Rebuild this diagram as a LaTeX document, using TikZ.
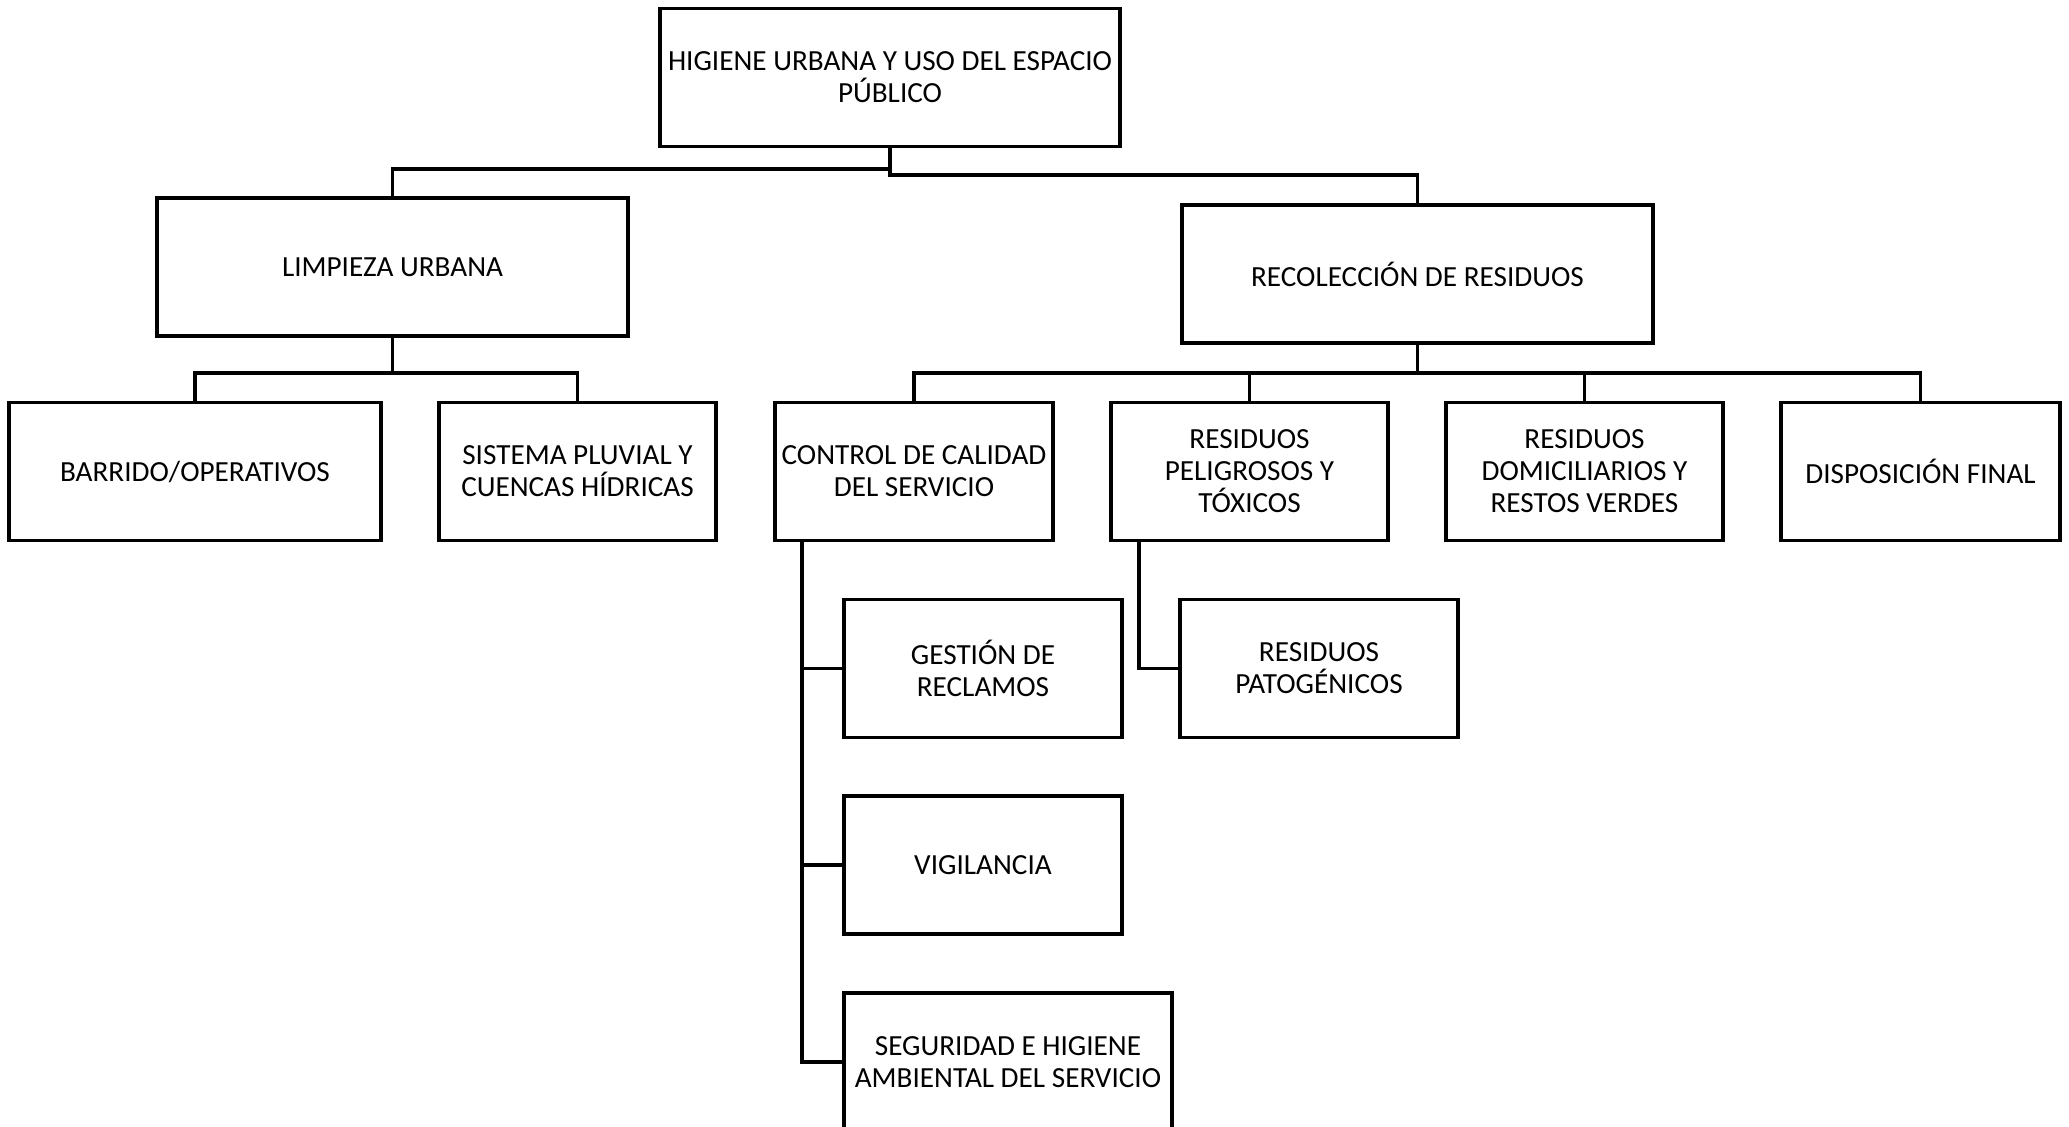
\documentclass[tikz,border=0pt]{standalone}
\usepackage{fontspec}
\setmainfont{Carlito}
\begin{document}
\begin{tikzpicture}[x=0.5pt,y=-0.5pt,
  box/.style={draw=black, line width=1.6pt, rectangle, align=center, inner sep=2pt,
    font=\fontsize{14.6}{16}\selectfont, minimum height=69pt},
  link/.style={draw=black, line width=1.6pt}]
\useasboundingbox (0,0) rectangle (2069,1126);
\node[box, minimum width=230pt] (top) at (890,77.5) {HIGIENE URBANA Y USO DEL ESPACIO\\PÚBLICO};
\node[box, minimum width=235.5pt] (limp) at (392.5,267) {LIMPIEZA URBANA};
\node[box, minimum width=235.5pt] (reco) at (1417.5,274) {RECOLECCIÓN DE RESIDUOS};
\node[box, minimum width=186pt] (barr) at (195,471.5) {BARRIDO/OPERATIVOS};
\node[box, minimum width=138.5pt] (sist) at (577.5,471.5) {SISTEMA PLUVIAL Y\\CUENCAS HÍDRICAS};
\node[box, minimum width=139pt] (ctrl) at (914,471.5) {CONTROL DE CALIDAD\\DEL SERVICIO};
\node[box, minimum width=138.5pt] (peli) at (1249.5,471.5) {RESIDUOS\\PELIGROSOS Y\\TÓXICOS};
\node[box, minimum width=138.5pt] (domi) at (1584.5,471.5) {RESIDUOS\\DOMICILIARIOS Y\\RESTOS VERDES};
\node[box, minimum width=139.5pt] (disp) at (1920.5,471.5) {DISPOSICIÓN FINAL};
\node[box, minimum width=139pt] (gest) at (983,668.5) {GESTIÓN DE\\RECLAMOS};
\node[box, minimum width=139pt] (vigi) at (983,865) {VIGILANCIA};
\node[box, minimum width=164pt] (segu) at (1008,1062) {SEGURIDAD E HIGIENE\\AMBIENTAL DEL SERVICIO};
\node[box, minimum width=139pt] (pato) at (1319,668.5) {RESIDUOS\\PATOGÉNICOS};
% top level connectors
\coordinate (j1) at (890,169);
\coordinate (j2) at (890,175);
\draw[link] (limp.north) |- (j1);
\draw[link] (top.south) -- (j2) -| (reco.north);
% limpieza
\coordinate (j3) at (392.5,373);
\draw[link] (limp.south) -- (j3);
\draw[link] (barr.north) |- (j3) -| (sist.north);
% recoleccion
\coordinate (j4) at (1417.5,373);
\draw[link] (reco.south) -- (j4);
\draw[link] (ctrl.north) |- (j4) -| (disp.north);
\draw[link] (peli.north) -- (peli.north |- j4);
\draw[link] (domi.north) -- (domi.north |- j4);
% control branches
\coordinate (cl) at (802,541);
\draw[link] (cl) |- (segu.west);
\draw[link] (cl |- gest.west) -- (gest.west);
\draw[link] (cl |- vigi.west) -- (vigi.west);
% peligrosos branch
\coordinate (pl) at (1139,541);
\draw[link] (pl) |- (pato.west);
\end{tikzpicture}
\end{document}
